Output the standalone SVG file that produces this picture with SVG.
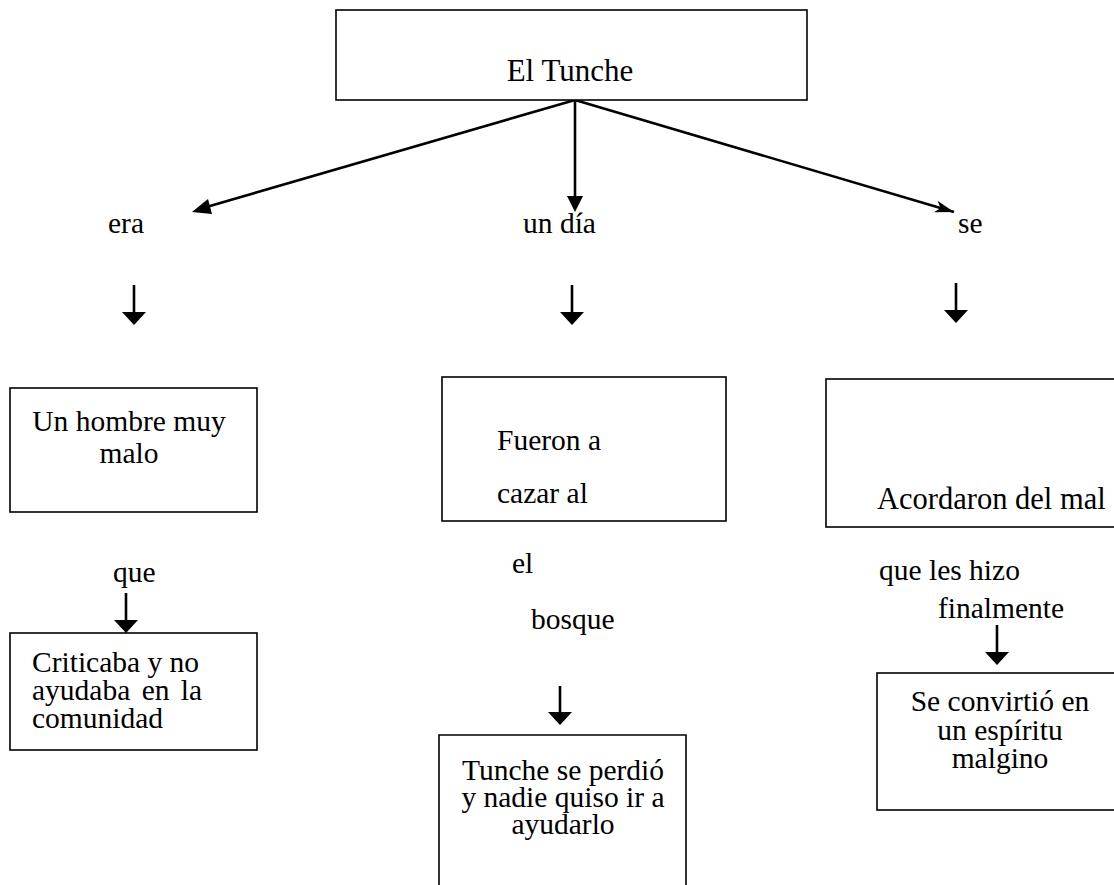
<svg xmlns="http://www.w3.org/2000/svg" width="1114" height="885" viewBox="0 0 1114 885">
<defs>
<style>
.box{fill:#fff;stroke:#000;stroke-width:1.6}
text{font-family:'Liberation Serif','DejaVu Serif','Times New Roman',serif;font-size:29.5px;fill:#000}
.c{text-anchor:middle}
.ln{stroke:#000;stroke-width:2.6;fill:none}
</style>
<marker id="ahb" markerWidth="20" markerHeight="20" refX="19" refY="7" orient="auto" markerUnits="userSpaceOnUse" viewBox="0 0 20 14">
<path d="M0,1 L19,7 L0,13 L5,7 z" fill="#000"/>
</marker>
</defs>
<rect width="1114" height="885" fill="#fff"/>

<g id="connectors">
<line class="ln" x1="575" y1="100" x2="203" y2="208"/>
<path d="M192,212 L208,199 L212,214 z" fill="#000"/>
<line class="ln" x1="575" y1="100" x2="575" y2="200"/>
<path d="M567,196 L583,196 L575,212 z" fill="#000"/>
<line class="ln" x1="575" y1="100" x2="954" y2="212" marker-end="url(#ahb)"/>
<line class="ln" x1="134" y1="285" x2="134" y2="314"/>
<path d="M122,312 L146,312 L134,325 z" fill="#000"/>
<line class="ln" x1="572" y1="285" x2="572" y2="314"/>
<path d="M560,312 L584,312 L572,325 z" fill="#000"/>
<line class="ln" x1="956" y1="283" x2="956" y2="312"/>
<path d="M944,310 L968,310 L956,323 z" fill="#000"/>
<line class="ln" x1="126" y1="593" x2="126" y2="622"/>
<path d="M114,620 L138,620 L126,633 z" fill="#000"/>
<line class="ln" x1="560" y1="686" x2="560" y2="714"/>
<path d="M548,712 L572,712 L560,725 z" fill="#000"/>
<line class="ln" x1="997" y1="625" x2="997" y2="654"/>
<path d="M985,652 L1009,652 L997,665 z" fill="#000"/>
</g>

<g font-family="Liberation Serif, DejaVu Serif, serif" font-size="29.5">
<g id="n-tunche">
<rect class="box" x="336" y="10" width="471" height="90"/>
<text class="c" x="570" y="81" style="font-size:31px">El Tunche</text>
</g>

<g id="l-era"><text x="108" y="233">era</text></g>
<g id="l-undia"><text x="523" y="233">un día</text></g>
<g id="l-se"><text x="958" y="233">se</text></g>

<g id="n-hombre">
<rect class="box" x="10" y="388" width="247" height="124"/>
<text class="c" x="129" y="431">Un hombre muy</text>
<text class="c" x="129" y="463">malo</text>
</g>

<g id="l-que"><text x="113" y="582">que</text></g>

<g id="n-criticaba">
<rect class="box" x="10" y="633" width="247" height="117"/>
<text x="32" y="672">Criticaba y no</text>
<text x="32" y="700" word-spacing="4">ayudaba en la</text>
<text x="32" y="728">comunidad</text>
</g>

<g id="n-fueron">
<rect class="box" x="442" y="377" width="284" height="144"/>
<text x="497" y="450">Fueron a</text>
<text x="497" y="503">cazar al</text>
</g>

<g id="l-el"><text x="512" y="573">el</text></g>
<g id="l-bosque"><text x="531" y="629">bosque</text></g>

<g id="n-perdio">
<path class="box" d="M439,885 L439,735 L686,735 L686,885"/>
<text class="c" x="563" y="780">Tunche se perdió</text>
<text class="c" x="563" y="807">y nadie quiso ir a</text>
<text class="c" x="563" y="834">ayudarlo</text>
</g>

<g id="n-acordaron">
<rect class="box" x="826" y="379" width="300" height="148"/>
<text x="877" y="509" style="font-size:30.5px">Acordaron del mal</text>
</g>

<g id="l-queles"><text x="879" y="580">que les hizo</text></g>
<g id="l-finalmente"><text x="938" y="618">finalmente</text></g>

<g id="n-convirtio">
<rect class="box" x="877" y="673" width="250" height="137"/>
<text class="c" x="1000" y="711">Se convirtió en</text>
<text class="c" x="1000" y="740">un espíritu</text>
<text class="c" x="1000" y="768">malgino</text>
</g>
</g>
</svg>
